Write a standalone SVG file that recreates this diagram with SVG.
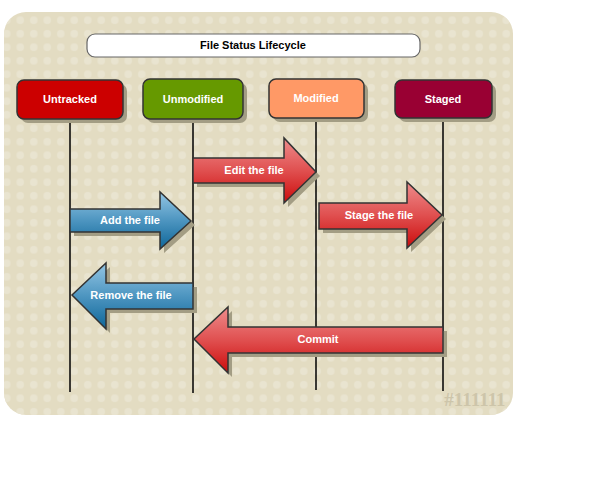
<svg xmlns="http://www.w3.org/2000/svg" width="597" height="500" viewBox="0 0 597 500">
<defs>
<style>
.lbl{font-family:"Liberation Sans",Arial,sans-serif;font-size:11px;font-weight:bold;fill:#fff;text-anchor:middle}
.ttl{font-family:"Liberation Sans",Arial,sans-serif;font-size:11px;font-weight:bold;fill:#000;text-anchor:middle}
.node{stroke:#333;stroke-width:1.5}
.shadow{fill:#a39d84}
.life{stroke:#000;stroke-width:1.5}
.arrow{stroke:#333;stroke-width:1.5;stroke-linejoin:miter}
.ashadow{fill:#a39d84}
</style>
<pattern id="dots" width="13.5" height="13.5" patternUnits="userSpaceOnUse">
<circle cx="6.75" cy="6.75" r="3.8" fill="#e9e4d0"/>
</pattern>
<linearGradient id="red" x1="0" y1="0" x2="0" y2="1">
<stop offset="0" stop-color="#ee8c8c"/>
<stop offset="0.5" stop-color="#e05050"/>
<stop offset="1" stop-color="#cc0c0c"/>
</linearGradient>
<linearGradient id="blue" x1="0" y1="0" x2="0" y2="1">
<stop offset="0" stop-color="#94c6e4"/>
<stop offset="0.5" stop-color="#4d95c0"/>
<stop offset="1" stop-color="#0e6699"/>
</linearGradient>
</defs>
<rect x="4" y="12" width="509" height="403" rx="22" fill="#e3dcc2"/>
<rect x="4" y="12" width="509" height="403" rx="22" fill="url(#dots)"/>
<text x="475" y="406" font-family="'Liberation Serif','DejaVu Serif',serif" font-size="19" font-weight="bold" fill="#cdc5aa" text-anchor="middle">#111111</text>

<g id="title">
<rect x="87" y="34" width="333" height="23" rx="8" fill="#fff" stroke="#666" stroke-width="1.2"/>
<text class="ttl" x="253" y="49">File Status Lifecycle</text>
</g>

<g id="connectors">
<line class="life" x1="70" y1="119" x2="70" y2="392"/>
<line class="life" x1="193" y1="119" x2="193" y2="393"/>
<line class="life" x1="316" y1="118" x2="316" y2="390"/>
<line class="life" x1="443" y1="118" x2="443" y2="391"/>
</g>

<g id="untracked">
<rect class="shadow" x="21" y="84" width="106" height="39" rx="7"/>
<rect class="node" x="17" y="80" width="106" height="39" rx="7" fill="#cc0000"/>
<text class="lbl" x="70" y="103">Untracked</text>
</g>
<g id="unmodified">
<rect class="shadow" x="147" y="83" width="100" height="40" rx="7"/>
<rect class="node" x="143" y="79" width="100" height="40" rx="7" fill="#669900"/>
<text class="lbl" x="193" y="103">Unmodified</text>
</g>
<g id="modified">
<rect class="shadow" x="273" y="83" width="95" height="39" rx="7"/>
<rect class="node" x="269" y="79" width="95" height="39" rx="7" fill="#ff9966"/>
<text class="lbl" x="316" y="102">Modified</text>
</g>
<g id="staged">
<rect class="shadow" x="399" y="84" width="97" height="38" rx="7"/>
<rect class="node" x="395" y="80" width="97" height="38" rx="7" fill="#990033"/>
<text class="lbl" x="443" y="103">Staged</text>
</g>

<g id="edit">
<polygon class="ashadow" points="197,162 288,162 288,142 320,176 288,207 288,187 197,187"/>
<polygon class="arrow" fill="url(#red)" points="193,158 284,158 284,138 316,172 284,203 284,183 193,183"/>
<text class="lbl" x="254" y="174">Edit the file</text>
</g>
<g id="add">
<polygon class="ashadow" points="74,213 164,213 164,196 195,225 164,253 164,236 74,236"/>
<polygon class="arrow" fill="url(#blue)" points="70,209 160,209 160,192 191,221 160,249 160,232 70,232"/>
<text class="lbl" x="130" y="224">Add the file</text>
</g>
<g id="stage">
<polygon class="ashadow" points="323,207 411,207 411,186 446,219 411,252 411,233 323,233"/>
<polygon class="arrow" fill="url(#red)" points="319,203 407,203 407,182 442,215 407,248 407,229 319,229"/>
<text class="lbl" x="379" y="219">Stage the file</text>
</g>
<g id="remove">
<polygon class="ashadow" points="197,287 110,287 110,267 76,299 110,333 110,313 197,313"/>
<polygon class="arrow" fill="url(#blue)" points="193,283 106,283 106,263 72,295 106,329 106,309 193,309"/>
<text class="lbl" x="131" y="299">Remove the file</text>
</g>
<g id="commit">
<polygon class="ashadow" points="447,331 232,331 232,311 198,343 232,377 232,357 447,357"/>
<polygon class="arrow" fill="url(#red)" points="443,327 228,327 228,307 194,339 228,373 228,353 443,353"/>
<text class="lbl" x="318" y="343">Commit</text>
</g>
</svg>
